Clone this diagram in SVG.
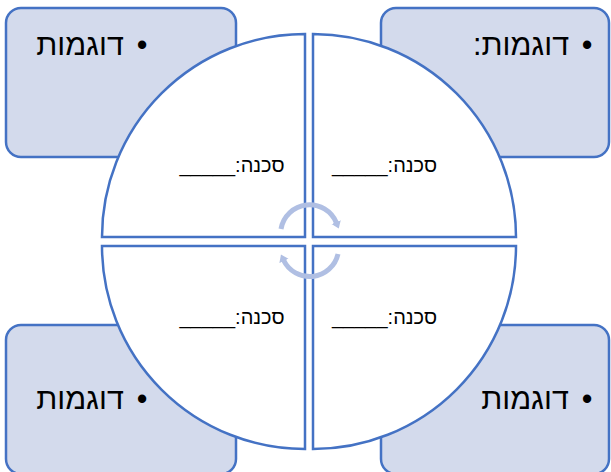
<svg xmlns="http://www.w3.org/2000/svg" width="611" height="472" viewBox="0 0 611 472">
<style>
.box{fill:#D3DAEC;stroke:#4472C4;stroke-width:2.5}
.q{fill:#FFFFFF;stroke:#4472C4;stroke-width:2.5}
.t1{font-family:"Liberation Sans","DejaVu Sans",sans-serif;font-size:30.5px;fill:#000;text-anchor:middle}
.t2{font-family:"Liberation Sans","DejaVu Sans",sans-serif;font-size:20px;fill:#000;text-anchor:middle}
.arc{fill:none;stroke:#B0BFE3;stroke-width:5}
</style>
<defs>
<marker id="ah" markerUnits="userSpaceOnUse" markerWidth="12" markerHeight="12" refX="1" refY="6" orient="auto" viewBox="0 0 12 12">
<path d="M0,1 L7,6 L0,11 Z" fill="#B0BFE3"/>
</marker>
</defs>
<g id="box-tl"><rect class="box" x="6" y="8" width="230" height="149" rx="15"/><text class="t1" x="142" y="55">•</text><text class="t1" x="80" y="55" direction="rtl">דוגמות</text></g>
<g id="box-tr"><rect class="box" x="381" y="8" width="228" height="149" rx="15"/><text class="t1" x="587" y="55">•</text><text class="t1" x="521" y="55" direction="rtl">דוגמות:</text></g>
<g id="box-bl"><rect class="box" x="6" y="325" width="230" height="149" rx="15"/><text class="t1" x="142" y="409">•</text><text class="t1" x="80" y="409" direction="rtl">דוגמות</text></g>
<g id="box-br"><rect class="box" x="381" y="325" width="228" height="149" rx="15"/><text class="t1" x="587" y="409">•</text><text class="t1" x="525" y="409" direction="rtl">דוגמות</text></g>
<g id="q-tl"><path class="q" d="M305,237 L102,237 A203,203 0 0 1 305,34 Z"/><text class="t2" x="232" y="172" direction="rtl">סכנה:_____</text></g>
<g id="q-tr"><path class="q" d="M313,237 L313,34 A203,203 0 0 1 516,237 Z"/><text class="t2" x="384.5" y="172" direction="rtl">סכנה:_____</text></g>
<g id="q-bl"><path class="q" d="M305,246 L305,449 A203,203 0 0 1 102,246 Z"/><text class="t2" x="232" y="324" direction="rtl">סכנה:_____</text></g>
<g id="q-br"><path class="q" d="M313,246 L516,246 A203,203 0 0 1 313,449 Z"/><text class="t2" x="384.5" y="324" direction="rtl">סכנה:_____</text></g>
<g id="connectors">
<path class="arc" d="M281,229 A29,29 0 0 1 336.5,223" marker-end="url(#ah)"/>
<path class="arc" d="M338,254 A29,29 0 0 1 283.5,260" marker-end="url(#ah)"/>
</g>
</svg>
